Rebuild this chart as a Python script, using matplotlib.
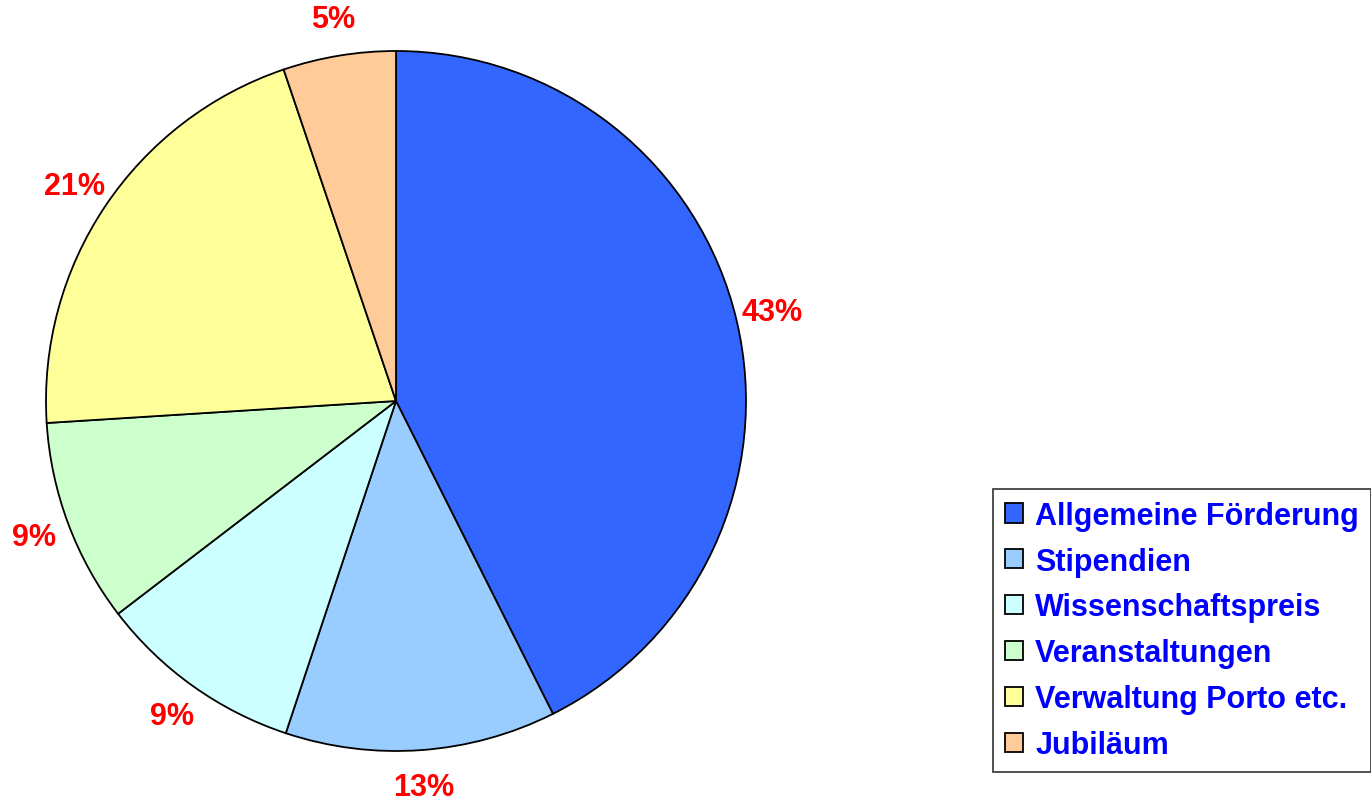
import matplotlib
matplotlib.use("Agg")
import matplotlib.pyplot as plt

categories = ["Allgemeine Förderung", "Stipendien", "Wissenschaftspreis",
              "Veranstaltungen", "Verwaltung Porto etc.", "Jubiläum"]
values = [42.6, 12.5, 9.5, 9.4, 20.8, 5.2]
pct_labels = ["43%", "13%", "9%", "9%", "21%", "5%"]
colors = ["#3366FF", "#99CCFF", "#CCFFFF", "#CCFFCC", "#FFFF99", "#FFCC99"]

plt.rcParams["font.family"] = ["Liberation Sans", "DejaVu Sans"]

fig = plt.figure(figsize=(13.71, 8.03), dpi=100)
W, H = 1371, 803
cx, cy, r = 396, 402, 350
ax = fig.add_axes([(cx - r) / W, (H - cy - r) / H, 2 * r / W, 2 * r / H])

wedges, texts = ax.pie(
    values, colors=colors, labels=pct_labels, startangle=90, counterclock=False,
    labeldistance=1.105,
    wedgeprops=dict(edgecolor="black", linewidth=1.3),
    textprops=dict(color="#FF0000", fontsize=22, fontweight="bold"))
for t in texts:
    t.set_ha("center"); t.set_va("center")
ax.set_xlim(-1, 1); ax.set_ylim(-1, 1)
ax.set_aspect("equal")

leg = fig.legend(wedges, categories, loc="upper left",
                 bbox_to_anchor=(993 / W, 1 - 490 / H),
                 frameon=True, fancybox=False, shadow=False,
                 handlelength=0.6, handleheight=0.6, handletextpad=0.4,
                 labelspacing=0.52, borderpad=0.38, borderaxespad=0,
                 prop=dict(size=22, weight="bold"))
leg.get_frame().set_edgecolor("black")
leg.get_frame().set_linewidth(1.2)
for t in leg.get_texts():
    t.set_color("#0000FF")

fig.savefig("out.png", dpi=100)
